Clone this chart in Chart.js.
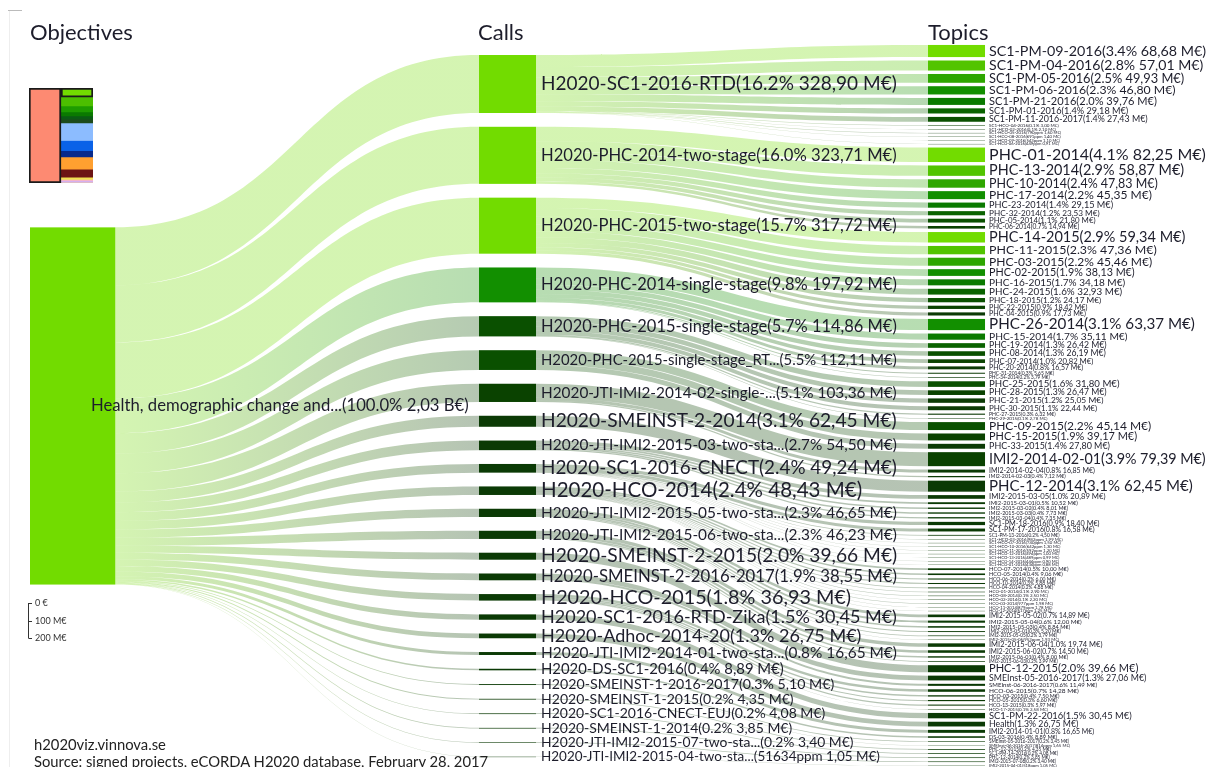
<!DOCTYPE html>
<html>
<head>
<meta charset="utf-8">
<script src="https://cdn.jsdelivr.net/npm/chart.js@4.4.1/dist/chart.umd.min.js"></script>
<style>
    html, body { margin: 0; padding: 0; background: #fff; }
    body { width: 1206px; height: 767px; overflow: hidden; position: relative; font-family: Lato, 'Open Sans', sans-serif; color: #1d1d2b; }
    #wrap { position: absolute; left: 0; top: 0; width: 1206px; height: 767px; }
    #overview { position: absolute; left: 28px; top: 87px; }
    .col-title { position: absolute; top: 21px; font-size: 22px; line-height: 1; }
    .footer { position: absolute; left: 34px; font-size: 14.8px; line-height: 1; color: #222; white-space: nowrap; }
    .edge { position: absolute; left: 9px; top: 11px; width: 0; height: 760px; border-left: 1px solid #eee; }
    .edge-top { position: absolute; left: 8px; top: 10px; width: 14px; height: 0; border-top: 1px solid #bbb; }
</style>
</head>
<body>
<div class="edge"></div>
<div class="edge-top"></div>
<div id="wrap"><canvas id="sankey"></canvas></div>
<canvas id="overview" width="66" height="97"></canvas>
<div class="col-title" style="left:30px">Objectives</div>
<div class="col-title" style="left:478px">Calls</div>
<div class="col-title" style="left:928px">Topics</div>
<div class="footer" style="top:737px">h2020viz.vinnova.se</div>
<div class="footer" style="top:754px">Source: signed projects, eCORDA H2020 database, February 28, 2017</div>

<script>
// values in M€
const objectiveName = 'Health, demographic change and...';

const callNames = [
    'H2020-SC1-2016-RTD', 'H2020-PHC-2014-two-stage', 'H2020-PHC-2015-two-stage',
    'H2020-PHC-2014-single-stage', 'H2020-PHC-2015-single-stage', 'H2020-PHC-2015-single-stage_RT...',
    'H2020-JTI-IMI2-2014-02-single-...', 'H2020-SMEINST-2-2014', 'H2020-JTI-IMI2-2015-03-two-sta...',
    'H2020-SC1-2016-CNECT', 'H2020-HCO-2014', 'H2020-JTI-IMI2-2015-05-two-sta...',
    'H2020-JTI-IMI2-2015-06-two-sta...', 'H2020-SMEINST-2-2015', 'H2020-SMEINST-2-2016-2017',
    'H2020-HCO-2015', 'H2020-SC1-2016-RTD-Zika', 'H2020-Adhoc-2014-20',
    'H2020-JTI-IMI2-2014-01-two-sta...', 'H2020-DS-SC1-2016', 'H2020-SMEINST-1-2016-2017',
    'H2020-SMEINST-1-2015', 'H2020-SC1-2016-CNECT-EUJ', 'H2020-SMEINST-1-2014',
    'H2020-JTI-IMI2-2015-07-two-sta...', 'H2020-JTI-IMI2-2015-04-two-sta...'
];
const callValues = [
    328.90, 323.71, 317.72, 197.92, 114.86, 112.11, 103.36, 62.45, 54.50, 49.24, 48.43, 46.65, 46.23,
    39.66, 38.55, 36.93, 30.45, 26.75, 16.65, 8.89, 5.10, 4.35, 4.08, 3.85, 3.40, 1.05
];
// share text as printed in the source where it differs
const callShareText = { 25: '51634ppm' };

const topicNames = [
    'SC1-PM-09-2016', 'SC1-PM-04-2016', 'SC1-PM-05-2016', 'SC1-PM-06-2016', 'SC1-PM-21-2016', 'SC1-PM-01-2016', 'SC1-PM-11-2016-2017',
    'SC1-HCO-04-2016', 'SC1-HCO-02-2016', 'SC1-HCO-05-2016', 'SC1-HCO-08-2016', 'SC1-HCO-09-2016', 'SC1-HCO-06-2016',
    'PHC-01-2014', 'PHC-13-2014', 'PHC-10-2014', 'PHC-17-2014', 'PHC-23-2014', 'PHC-32-2014', 'PHC-05-2014', 'PHC-06-2014',
    'PHC-14-2015', 'PHC-11-2015', 'PHC-03-2015', 'PHC-02-2015', 'PHC-16-2015', 'PHC-24-2015', 'PHC-18-2015', 'PHC-22-2015', 'PHC-04-2015',
    'PHC-26-2014', 'PHC-15-2014', 'PHC-19-2014', 'PHC-08-2014', 'PHC-07-2014', 'PHC-20-2014', 'PHC-31-2014', 'PHC-34-2014',
    'PHC-25-2015', 'PHC-28-2015', 'PHC-21-2015', 'PHC-30-2015', 'PHC-27-2015', 'PHC-29-2015',
    'PHC-09-2015', 'PHC-15-2015', 'PHC-33-2015',
    'IMI2-2014-02-01', 'IMI2-2014-02-04', 'IMI2-2014-02-03',
    'PHC-12-2014',
    'IMI2-2015-03-05', 'IMI2-2015-03-01', 'IMI2-2015-03-02', 'IMI2-2015-03-03', 'IMI2-2015-03-04',
    'SC1-PM-18-2016', 'SC1-PM-17-2016', 'SC1-PM-13-2016', 'SC1-HCO-03-2016', 'SC1-HCO-07-2016', 'SC1-HCO-10-2016',
    'SC1-HCO-11-2016', 'SC1-HCO-12-2016', 'SC1-HCO-13-2016', 'SC1-HCO-14-2016', 'SC1-HCO-01-2016',
    'HCO-07-2014', 'HCO-05-2014', 'HCO-06-2014', 'HCO-10-2014', 'HCO-04-2014', 'HCO-01-2014',
    'HCO-08-2014', 'HCO-02-2014', 'HCO-03-2014', 'HCO-11-2014', 'HCO-12-2014',
    'IMI2-2015-05-02', 'IMI2-2015-05-04', 'IMI2-2015-05-03', 'IMI2-2015-05-01', 'IMI2-2015-05-05', 'IMI2-2015-05-06',
    'IMI2-2015-06-04', 'IMI2-2015-06-02', 'IMI2-2015-06-01', 'IMI2-2015-06-03',
    'PHC-12-2015',
    'SMEInst-05-2016-2017', 'SMEInst-06-2016-2017',
    'HCO-06-2015', 'HCO-03-2015', 'HCO-05-2015', 'HCO-13-2015', 'HCO-17-2015',
    'SC1-PM-22-2016', 'Health', 'IMI2-2014-01-01', 'DS-03-2016',
    'SMEInst-05-2016-2017', 'SMEInst-06-2016-2017',
    'PHC-12-2015', 'SC1-PM-14-2016', 'PHC-12-2014', 'IMI2-2015-07-08', 'IMI2-2015-04-01'
];
const topicValues = [
    68.68, 57.01, 49.93, 46.80, 39.76, 29.18, 27.43,
    3.00, 2.10, 1.60, 1.40, 1.10, 0.91,
    82.25, 58.87, 47.83, 45.35, 29.15, 23.53, 21.80, 14.94,
    59.34, 47.36, 45.46, 38.13, 34.18, 32.93, 24.17, 18.42, 17.73,
    63.37, 35.11, 26.42, 26.19, 20.82, 16.57, 5.65, 3.79,
    31.80, 26.47, 25.05, 22.44, 6.32, 2.78,
    45.14, 39.17, 27.80,
    79.39, 16.85, 7.12,
    62.45,
    20.89, 10.52, 8.01, 7.73, 7.35,
    18.40, 16.58, 4.50, 1.99, 1.50, 1.30,
    1.20, 1.00, 0.99, 0.90, 0.88,
    10.00, 9.06, 6.00, 5.88, 4.88, 2.90,
    2.50, 2.20, 1.98, 1.78, 1.25,
    14.89, 12.00, 8.84, 5.20, 3.79, 1.93,
    19.74, 14.50, 8.00, 3.99,
    39.66,
    27.06, 11.49,
    14.28, 7.50, 6.60, 5.97, 2.58,
    30.45, 26.75, 16.65, 8.89,
    3.45, 1.65,
    4.35, 4.08, 3.85, 3.40, 1.05
];
// index into callNames for every topic
const topicCalls = [
    0, 0, 0, 0, 0, 0, 0, 0, 0, 0, 0, 0, 0,
    1, 1, 1, 1, 1, 1, 1, 1,
    2, 2, 2, 2, 2, 2, 2, 2, 2,
    3, 3, 3, 3, 3, 3, 3, 3,
    4, 4, 4, 4, 4, 4,
    5, 5, 5,
    6, 6, 6,
    7,
    8, 8, 8, 8, 8,
    9, 9, 9, 9, 9, 9, 9, 9, 9, 9, 9,
    10, 10, 10, 10, 10, 10, 10, 10, 10, 10, 10,
    11, 11, 11, 11, 11, 11,
    12, 12, 12, 12,
    13,
    14, 14,
    15, 15, 15, 15, 15,
    16, 17, 18, 19,
    20, 20,
    21, 22, 23, 24, 25
];

// overview of all objectives (B€), top to bottom
const overviewValues = [2.03, 1.96, 1.29, 0.90, 0.74, 0.83, 3.90, 2.26, 1.35, 2.77, 1.74, 0.50, 0.30, 0.30, 0.20];
const overviewColors = ['#72dc00', '#4cbf00', '#1e9c00', '#0a7a00', '#0a5c14', '#1c4a1c', '#8cbcff', '#0a62e8',
    '#082a8c', '#ffa030', '#6c1414', '#f0e050', '#f5b4c8', '#d4b0f0', '#e8c8a0'];

// layout (value units of the y scale, M€)
const Y_MAX = 4350;
const CALL_TOP = 312;
const CALL_GAP = 78.2;
const TOPIC_TOP = 255;
const TOPIC_GAP = 19.45;
const OBJ_W = 0.19;
const NODE_W = 0.127;
const LINK_ALPHA = 0.3;

const greens = ['#72dc00', '#52c400', '#2ea600', '#128f00', '#0a7a00', '#0a6300', '#0a5000', '#0a4200', '#0b3a05'];
const callShade = [0, 0, 0, 3, 6, 6, 7, 8, 8, 8, 8, 8, 8, 8, 8, 8, 8, 8, 8, 8, 8, 8, 8, 8, 8, 8];
const objectiveColor = '#72dc00';
const textColor = '#1d1d2b';

document.addEventListener('DOMContentLoaded', () => {
    renderSankey();
    renderOverview();
});

function hexToRgba(hex, a) {
    const n = parseInt(hex.slice(1), 16);
    return `rgba(${(n >> 16) & 255}, ${(n >> 8) & 255}, ${n & 255}, ${a})`;
}

function formatMoney(v) {
    return v.toFixed(2).replace('.', ',') + ' M€';
}

function formatShare(v, total) {
    const p = v / total * 100;
    if (p >= 0.1) return p.toFixed(1) + '%';
    return Math.round(v / total * 1e6) + 'ppm';
}

function buildLayout() {
    const total = callValues.reduce((s, v) => s + v, 0);

    let pos = CALL_TOP;
    const calls = callValues.map((v, i) => {
        const node = { y0: pos, y1: pos + v, out: pos, color: greens[callShade[i]] };
        pos += v + CALL_GAP;
        return node;
    });
    const callSpan = pos - CALL_GAP - CALL_TOP;
    const objTop = CALL_TOP + (callSpan - total) / 2;
    const objective = { y0: objTop, y1: objTop + total };

    pos = TOPIC_TOP;
    let rank = 0;
    const topics = topicValues.map((v, i) => {
        rank = (i > 0 && topicCalls[i] === topicCalls[i - 1]) ? rank + 1 : 0;
        const shade = Math.min(greens.length - 1, callShade[topicCalls[i]] + rank);
        const node = { y0: pos, y1: pos + v, color: greens[shade] };
        pos += v + TOPIC_GAP;
        return node;
    });

    return { total, objective, calls, topics };
}

function drawLink(ctx, x0, a0, b0, x1, a1, b1, c0, c1) {
    const grad = ctx.createLinearGradient(x0, 0, x1, 0);
    grad.addColorStop(0, hexToRgba(c0, LINK_ALPHA));
    grad.addColorStop(1, hexToRgba(c1, LINK_ALPHA));
    const xm = (x0 + x1) / 2;
    ctx.fillStyle = grad;
    ctx.beginPath();
    ctx.moveTo(x0, a0);
    ctx.bezierCurveTo(xm, a0, xm, a1, x1, a1);
    ctx.lineTo(x1, b1);
    ctx.bezierCurveTo(xm, b1, xm, b0, x0, b0);
    ctx.closePath();
    ctx.fill();
}

function drawLabel(ctx, text, x, yc, size, maxW) {
    ctx.font = `${size}px Lato, 'Open Sans', sans-serif`;
    const w = ctx.measureText(text).width;
    if (w > maxW) {
        size = size * maxW / w;
        ctx.font = `${size}px Lato, 'Open Sans', sans-serif`;
    }
    ctx.fillText(text, x, yc);
}

const sankeyPlugin = {
    id: 'sankey',
    afterDatasetsDraw(chart) {
        const { ctx, scales: { x, y } } = chart;
        const L = buildLayout();
        const py = v => y.getPixelForValue(v);
        const unit = v => py(v) - py(0);

        const objL = x.getPixelForValue(0), objR = x.getPixelForValue(OBJ_W);
        const callL = x.getPixelForValue(1), callR = x.getPixelForValue(1 + NODE_W);
        const topL = x.getPixelForValue(2), topR = x.getPixelForValue(2 + NODE_W);

        ctx.save();

        // objective -> calls
        let src = L.objective.y0;
        L.calls.forEach((c, i) => {
            const v = callValues[i];
            drawLink(ctx, objR, py(src), py(src + v), callL, py(c.y0), py(c.y1), objectiveColor, c.color);
            src += v;
        });

        // calls -> topics
        L.topics.forEach((t, i) => {
            const c = L.calls[topicCalls[i]];
            const v = topicValues[i];
            drawLink(ctx, callR, py(c.out), py(c.out + v), topL, py(t.y0), py(t.y1), c.color, t.color);
            c.out += v;
        });

        // nodes
        ctx.fillStyle = objectiveColor;
        ctx.fillRect(objL, py(L.objective.y0), objR - objL, unit(L.total));
        L.calls.forEach((c, i) => {
            ctx.fillStyle = c.color;
            ctx.fillRect(callL, py(c.y0), callR - callL, Math.max(unit(callValues[i]), 0.4));
        });
        L.topics.forEach((t, i) => {
            ctx.fillStyle = t.color;
            ctx.fillRect(topL, py(t.y0), topR - topL, Math.max(unit(topicValues[i]), 0.3));
        });

        // labels
        ctx.fillStyle = textColor;
        ctx.textBaseline = 'middle';
        ctx.textAlign = 'left';
        const objText = `${objectiveName}(100.0% ${(L.total / 1000).toFixed(2).replace('.', ',')} B€)`;
        drawLabel(ctx, objText, objL + 61, py((L.objective.y0 + L.objective.y1) / 2), 18, 378);

        L.calls.forEach((c, i) => {
            const v = callValues[i];
            const share = callShareText[i] || formatShare(v, L.total);
            const size = Math.min(20.5, unit(v) + 13.3);
            drawLabel(ctx, `${callNames[i]}(${share} ${formatMoney(v)})`, callR + 5, py((c.y0 + c.y1) / 2), size, 356);
        });

        const topicGapPx = unit(TOPIC_GAP);
        L.topics.forEach((t, i) => {
            const v = topicValues[i];
            const size = Math.min(16.5, Math.max(4, unit(v) + topicGapPx + 0.6));
            drawLabel(ctx, `${topicNames[i]}(${formatShare(v, L.total)} ${formatMoney(v)})`, topR + 4, py((t.y0 + t.y1) / 2), size, 217);
        });

        // value scale key
        const k0 = 603;
        ctx.strokeStyle = '#333';
        ctx.lineWidth = 1;
        ctx.beginPath();
        ctx.moveTo(28.5, k0);
        ctx.lineTo(28.5, k0 + unit(200));
        ctx.stroke();
        ctx.font = "9px Lato, 'Open Sans', sans-serif";
        ctx.fillStyle = '#333';
        [[0, '0 €'], [100, '100 M€'], [200, '200 M€']].forEach(([v, txt]) => {
            const yy = Math.round(k0 + unit(v)) + 0.5;
            ctx.beginPath();
            ctx.moveTo(28.5, yy);
            ctx.lineTo(32, yy);
            ctx.stroke();
            ctx.fillText(txt, 35, yy);
        });

        ctx.restore();
    }
};

function renderSankey() {
    const ctx = document.getElementById('sankey').getContext('2d');
    new Chart(ctx, {
        type: 'scatter',
        data: { datasets: [{ data: [], pointRadius: 0 }] },
        options: {
            responsive: true,
            maintainAspectRatio: false,
            animation: false,
            layout: { padding: { left: 30, right: 278, top: 0, bottom: 0 } },
            scales: {
                x: { type: 'linear', min: 0, max: 2, display: false },
                y: { type: 'linear', min: 0, max: Y_MAX, reverse: true, display: false }
            },
            plugins: {
                legend: { display: false },
                tooltip: { enabled: false }
            }
        },
        plugins: [sankeyPlugin]
    });
}

function renderOverview() {
    const ctx = document.getElementById('overview').getContext('2d');
    const pillarTotal = overviewValues.reduce((s, v) => s + v, 0);
    const datasets = [{
        data: [pillarTotal, null],
        backgroundColor: '#fd8a72',
        borderColor: '#1a1a1a',
        borderWidth: 2,
        borderSkipped: false
    }];
    overviewValues.forEach((v, i) => {
        datasets.push({
            data: [null, v],
            backgroundColor: overviewColors[i],
            borderColor: '#1a1a1a',
            borderWidth: i === 0 ? 2 : 0,
            borderSkipped: false
        });
    });
    new Chart(ctx, {
        type: 'bar',
        data: { labels: ['pillar', 'objectives'], datasets },
        options: {
            responsive: false,
            animation: false,
            layout: { padding: 1 },
            datasets: { bar: { barPercentage: 1, categoryPercentage: 1 } },
            scales: {
                x: { stacked: true, display: false },
                y: { stacked: true, display: false, reverse: true, min: 0, max: pillarTotal }
            },
            plugins: {
                legend: { display: false },
                tooltip: { enabled: false }
            }
        }
    });
}
</script>
</body>
</html>
